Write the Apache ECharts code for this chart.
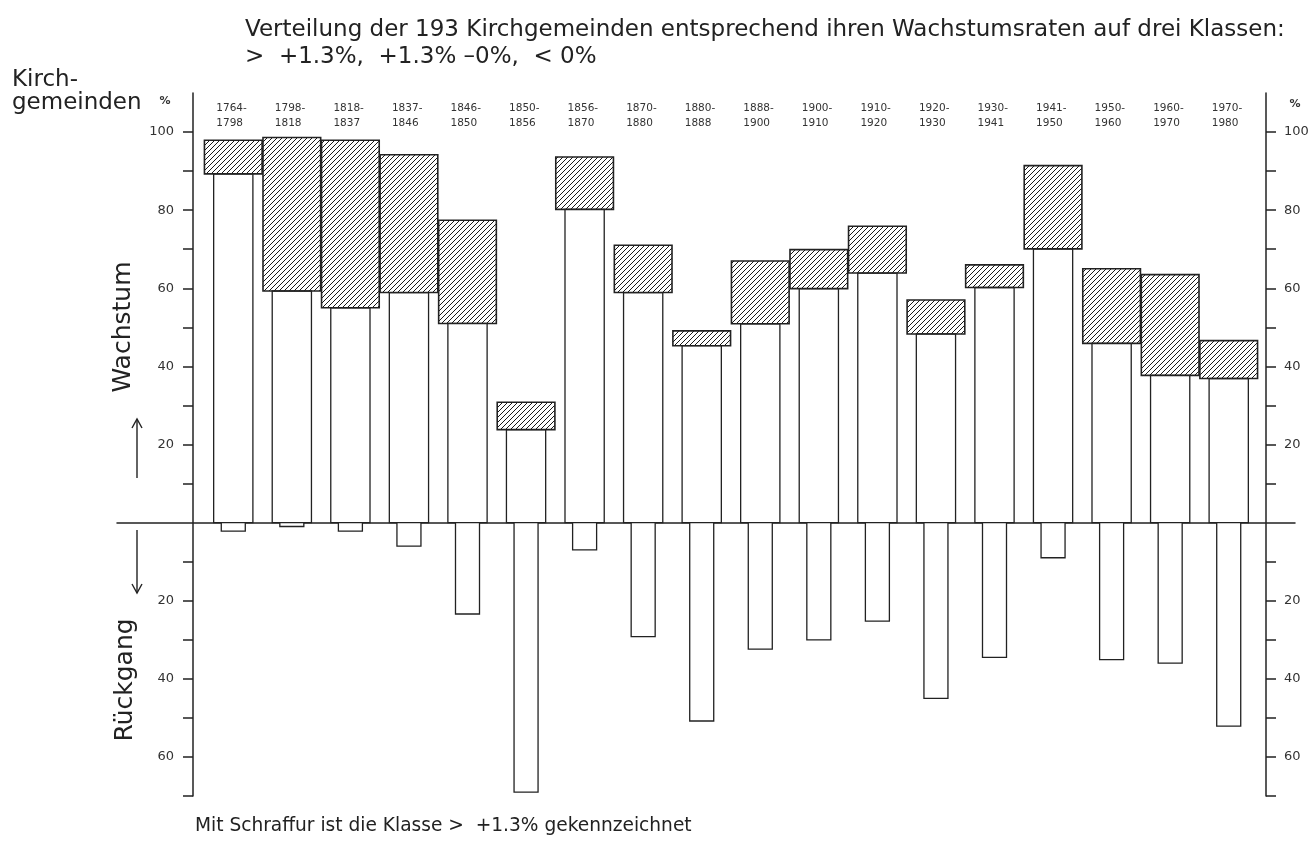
<!DOCTYPE html>
<html><head><meta charset="utf-8">
<script src="https://cdn.jsdelivr.net/npm/echarts@6/dist/echarts.min.js"></script>
<style>html,body{margin:0;padding:0;background:#fff}#c{width:1314px;height:843px}</style>
</head><body><div id="c"></div>
<script>
// Periods (tick labels on top)
const periodStart = ['1764','1798','1818','1837','1846','1850','1856','1870','1880','1888','1900','1910','1920','1930','1941','1950','1960','1970'];
const periodEnd   = ['1798','1818','1837','1846','1850','1856','1870','1880','1888','1900','1910','1920','1930','1941','1950','1960','1970','1980'];
// Class +1.3% – 0% (white bars, % of parishes)
const moderateGrowth = [89.3, 59.3, 55.0, 58.9, 51.0, 23.8, 80.2, 58.9, 45.3, 50.9, 59.9, 63.9, 48.3, 60.2, 70.1, 45.9, 37.7, 36.9];
// Class > +1.3% (hatched boxes, stacked on top)
const strongGrowth = [8.6, 39.3, 42.9, 35.3, 26.4, 7.0, 13.4, 12.1, 3.8, 16.1, 10.0, 12.0, 8.7, 5.8, 21.3, 19.1, 25.8, 9.7];
// Class < 0% (decline, drawn downward)
const decline = [2.2, 1.0, 2.2, 6.0, 23.4, 69.0, 7.0, 29.2, 50.8, 32.4, 30.0, 25.2, 45.0, 34.5, 9.0, 35.1, 36.0, 52.1];
// Axis ticks / labels
const yTickValues = [-70,-60,-50,-40,-30,-20,-10,10,20,30,40,50,60,70,80,90,100];
const yLabelValues = [-60,-40,-20,20,40,60,80,100];

const FONT = 'DejaVu Sans';
const TFONT = 'DejaVu Sans';
const INK = '#222';

// hatch pattern
const pc = document.createElement('canvas');
pc.width = 5; pc.height = 5;
const g = pc.getContext('2d');
g.strokeStyle = '#1a1a1a'; g.lineWidth = 1;
g.beginPath();
g.moveTo(0,5); g.lineTo(5,0);
g.moveTo(-1,1); g.lineTo(1,-1);
g.moveTo(4,6); g.lineTo(6,4);
g.stroke();
const hatch = {image: pc, repeat: 'repeat'};

const data = periodStart.map((s, i) => [i, moderateGrowth[i], strongGrowth[i], decline[i]]);

const chart = echarts.init(document.getElementById('c'), null, {renderer: 'canvas'});

const yAxisCommon = {
  type: 'value', min: -70, max: 110, interval: 10,
  axisLine: {show: true, lineStyle: {color: INK, width: 1.5}},
  axisTick: {show: true, length: 10, customValues: yTickValues, lineStyle: {color: INK, width: 1.5}},
  axisLabel: {customValues: yLabelValues, formatter: v => String(Math.abs(v)), fontFamily: FONT, fontSize: 13, color: '#333'},
  splitLine: {show: false}
};

chart.setOption({
  animation: false,
  backgroundColor: '#fff',
  grid: [
    {left: 204, right: 1314 - 1258, top: 93, bottom: 843 - 796, outerBoundsMode: 'none', containLabel: false},
    {left: 117, right: 19, top: 93, bottom: 843 - 796, outerBoundsMode: 'none', containLabel: false}
  ],
  xAxis: [
    {
      gridIndex: 0, type: 'category', position: 'top', data: periodStart,
      axisLine: {show: false}, axisTick: {show: false}, splitLine: {show: false},
      axisLabel: {
        inside: true, margin: 8, interval: 0,
        formatter: (v, idx) => '{a|' + periodStart[idx] + '-}\n{a|' + periodEnd[idx] + '}',
        rich: {a: {width: 34, align: 'left', fontFamily: FONT, fontSize: 10.5, color: '#333', lineHeight: 15}}
      }
    },
    {
      gridIndex: 1, type: 'value', min: 0, max: 1,
      axisLine: {show: true, onZero: true, lineStyle: {color: INK, width: 1.5}},
      axisTick: {show: false}, axisLabel: {show: false}, splitLine: {show: false}
    }
  ],
  yAxis: [
    Object.assign({}, yAxisCommon, {gridIndex: 0, position: 'left', offset: 11,
      axisLabel: Object.assign({}, yAxisCommon.axisLabel, {margin: 19})}),
    Object.assign({}, yAxisCommon, {gridIndex: 0, position: 'right', offset: 8,
      axisLabel: Object.assign({}, yAxisCommon.axisLabel, {margin: 18})}),
    {gridIndex: 1, type: 'value', min: -70, max: 110, show: false}
  ],
  series: [{
    type: 'custom',
    xAxisIndex: 0, yAxisIndex: 0,
    data: data,
    clip: false,
    renderItem: function (params, api) {
      const i = api.value(0);
      const mod = api.value(1), str = api.value(2), dec = api.value(3);
      const band = api.size([1, 0])[0];
      const base = api.coord([i, 0]);
      const x = base[0], y0 = base[1];
      const yMod = api.coord([i, mod])[1];
      const yTop = api.coord([i, mod + str])[1];
      const yDec = api.coord([i, -dec])[1];
      const wW = band * 0.67, wN = band * 0.41, wH = band * 0.985;
      return {type: 'group', children: [
        {type: 'rect', shape: {x: x - wW / 2, y: yMod, width: wW, height: y0 - yMod},
          style: {fill: '#fff', stroke: INK, lineWidth: 1.3}},
        {type: 'rect', shape: {x: x - wN / 2, y: y0, width: wN, height: yDec - y0},
          style: {fill: '#fff', stroke: INK, lineWidth: 1.3}},
        {type: 'rect', shape: {x: x - wH / 2, y: yTop, width: wH, height: yMod - yTop},
          style: {fill: hatch, stroke: INK, lineWidth: 1.6}}
      ]};
    }
  }],
  graphic: [
    {type: 'text', left: 245, top: 19, style: {text: 'Verteilung der 193 Kirchgemeinden entsprechend ihren Wachstumsraten auf drei Klassen:', fontFamily: TFONT, fontSize: 23, fill: INK}},
    {type: 'text', left: 245, top: 46, style: {text: '>  +1.3%,  +1.3% –0%,  < 0%', fontFamily: TFONT, fontSize: 23, fill: INK}},
    {type: 'text', left: 12, top: 69, style: {text: 'Kirch-', fontFamily: TFONT, fontSize: 23, fill: INK}},
    {type: 'text', left: 12, top: 92, style: {text: 'gemeinden', fontFamily: TFONT, fontSize: 23, fill: INK}},
    {type: 'text', x: 165, y: 101, style: {text: '%', fontFamily: FONT, fontSize: 11, fontWeight: 'bold', fill: '#333', align: 'center', verticalAlign: 'middle'}},
    {type: 'text', x: 1295, y: 104, style: {text: '%', fontFamily: FONT, fontSize: 11, fontWeight: 'bold', fill: '#333', align: 'center', verticalAlign: 'middle'}},
    {type: 'text', x: 123, y: 327, rotation: Math.PI / 2, style: {text: 'Wachstum', fontFamily: TFONT, fontSize: 25, fill: INK, align: 'center', verticalAlign: 'middle'}},
    {type: 'text', x: 125, y: 680, rotation: Math.PI / 2, style: {text: 'Rückgang', fontFamily: TFONT, fontSize: 25, fill: INK, align: 'center', verticalAlign: 'middle'}},
    {type: 'polyline', shape: {points: [[137, 478], [137, 419]]}, style: {stroke: INK, lineWidth: 1.4, fill: null}},
    {type: 'polyline', shape: {points: [[132, 428], [137, 419], [142, 428]]}, style: {stroke: INK, lineWidth: 1.4, fill: null}},
    {type: 'polyline', shape: {points: [[137, 530], [137, 593]]}, style: {stroke: INK, lineWidth: 1.4, fill: null}},
    {type: 'polyline', shape: {points: [[132, 584], [137, 593], [142, 584]]}, style: {stroke: INK, lineWidth: 1.4, fill: null}},
    {type: 'text', left: 195, top: 817, style: {text: 'Mit Schraffur ist die Klasse >  +1.3% gekennzeichnet', fontFamily: TFONT, fontSize: 18.6, fill: INK}}
  ]
});
</script>
</body></html>
